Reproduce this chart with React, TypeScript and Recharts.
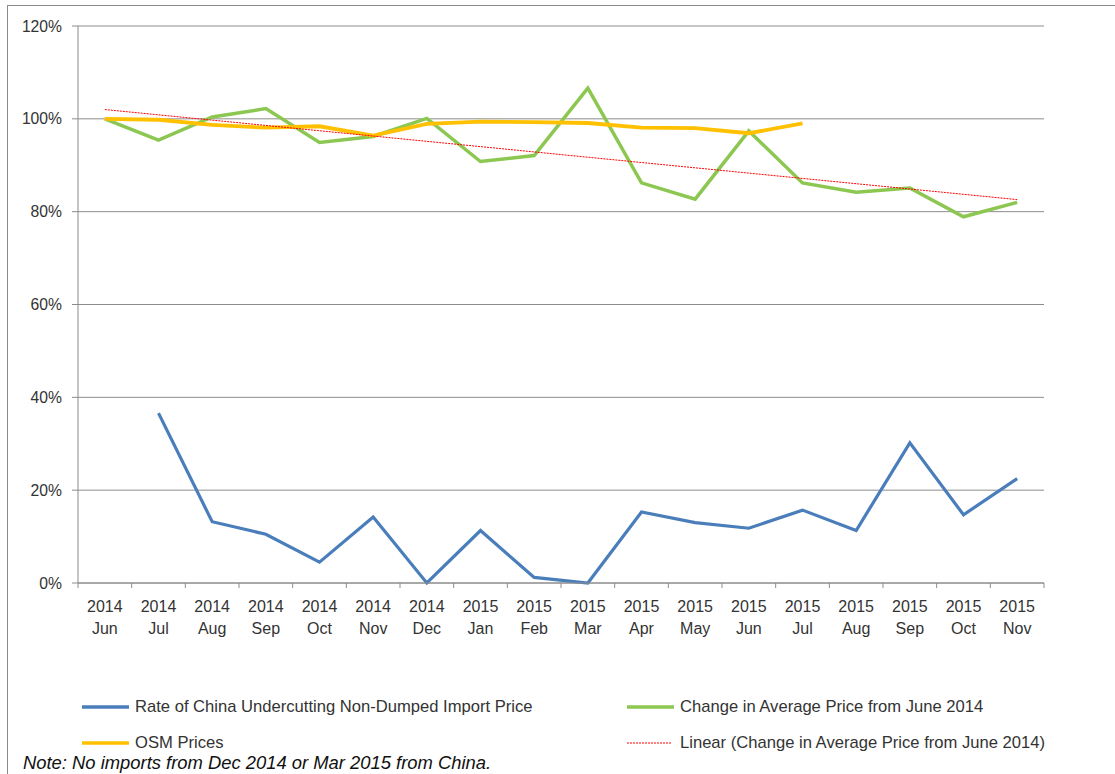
import React from 'react';
import { LineChart, Line, XAxis, YAxis, CartesianGrid } from 'recharts';

const years = ['2014', '2014', '2014', '2014', '2014', '2014', '2014', '2015', '2015', '2015', '2015', '2015', '2015', '2015', '2015', '2015', '2015', '2015'];
const months = ['Jun', 'Jul', 'Aug', 'Sep', 'Oct', 'Nov', 'Dec', 'Jan', 'Feb', 'Mar', 'Apr', 'May', 'Jun', 'Jul', 'Aug', 'Sep', 'Oct', 'Nov'];

const undercutting = [null, 36.6, 13.2, 10.5, 4.5, 14.2, 0, 11.3, 1.2, 0, 15.3, 13.0, 11.8, 15.7, 11.3, 30.2, 14.7, 22.5];
const avgPriceChange = [100, 95.4, 100.4, 102.2, 94.9, 96.2, 100.1, 90.8, 92.1, 106.6, 86.2, 82.7, 97.4, 86.2, 84.2, 85.1, 78.9, 82.0];
const osmPrices = [100, 99.8, 98.7, 98.1, 98.4, 96.4, 98.9, 99.4, 99.3, 99.1, 98.1, 98.0, 96.9, 99.0, null, null, null, null];
// trend line: only the two end values, joined straight
const linearTrend = [102.0, null, null, null, null, null, null, null, null, null, null, null, null, null, null, null, null, 82.6];

const yTicks = [0, 20, 40, 60, 80, 100, 120];

const data = months.map((m, i) => ({
  key: `${years[i]}-${m}-${i}`,
  year: years[i],
  month: m,
  undercutting: undercutting[i],
  avgPriceChange: avgPriceChange[i],
  osmPrices: osmPrices[i],
  linearTrend: linearTrend[i],
}));

const FONT = '"Liberation Sans", Arial, sans-serif';
const GRID = '#8c8c8c';
const TEXT = '#333333';

const CHART_W = 1115;
const CHART_H = 774;
const PLOT_LEFT = 78;
const PLOT_RIGHT = 1044;
const HALF_STEP = (PLOT_RIGHT - PLOT_LEFT) / months.length / 2;

const legendItems = [
  { name: 'Rate of China Undercutting Non-Dumped Import Price', color: '#4a7ebb', dashed: false, left: 82, top: 707 },
  { name: 'Change in Average Price from June 2014', color: '#8cc751', dashed: false, left: 627, top: 707 },
  { name: 'OSM Prices', color: '#ffc000', dashed: false, left: 82, top: 743 },
  { name: 'Linear (Change in Average Price from June 2014)', color: '#ff0000', dashed: true, left: 627, top: 743 },
];

const MonthTick = (props: any) => {
  const { x, y, index, payload } = props;
  const d = data[index] || data[payload.index];
  const isLast = index === months.length - 1;
  return (
    <g>
      <line x1={x - HALF_STEP} y1={y} x2={x - HALF_STEP} y2={y + 5} stroke={GRID} strokeWidth={1} />
      {isLast && <line x1={x + HALF_STEP} y1={y} x2={x + HALF_STEP} y2={y + 5} stroke={GRID} strokeWidth={1} />}
      <text x={x} y={y + 29} textAnchor="middle" fill={TEXT} fontSize={16} fontFamily={FONT}>
        {d.year}
      </text>
      <text x={x} y={y + 51} textAnchor="middle" fill={TEXT} fontSize={16} fontFamily={FONT}>
        {d.month}
      </text>
    </g>
  );
};

export default function App() {
  return (
    <div style={{ position: 'absolute', left: 0, top: 0, width: CHART_W, height: CHART_H, overflow: 'hidden', background: '#fff' }}>
      <div
        style={{
          position: 'absolute',
          left: 7,
          top: 5,
          width: CHART_W + 20,
          height: CHART_H + 20,
          border: '1.5px solid #8a8a8a',
        }}
      />
      <div style={{ position: 'absolute', left: 0, top: 0 }}>
        <LineChart
          width={CHART_W}
          height={CHART_H}
          data={data}
          margin={{ top: 26, right: CHART_W - PLOT_RIGHT, left: 0, bottom: 131 }}
        >
          <CartesianGrid vertical={false} stroke={GRID} strokeWidth={1} />
          <XAxis
            dataKey="key"
            interval={0}
            height={60}
            padding={{ left: HALF_STEP, right: HALF_STEP }}
            axisLine={{ stroke: GRID }}
            tickLine={false}
            tickSize={0}
            tickMargin={0}
            tick={<MonthTick />}
          />
          <YAxis
            width={PLOT_LEFT}
            domain={[0, 120]}
            ticks={yTicks}
            interval={0}
            tickFormatter={(v: number) => `${v}%`}
            axisLine={{ stroke: GRID }}
            tickLine={{ stroke: GRID }}
            tickSize={6}
            tickMargin={10}
            tick={{ fill: TEXT, fontSize: 15.7, fontFamily: FONT }}
          />
          <Line dataKey="undercutting" stroke="#4a7ebb" strokeWidth={3.2} dot={false} isAnimationActive={false} />
          <Line dataKey="avgPriceChange" stroke="#8cc751" strokeWidth={3.5} dot={false} isAnimationActive={false} />
          <Line dataKey="osmPrices" stroke="#ffc000" strokeWidth={3.8} dot={false} isAnimationActive={false} />
          <Line
            dataKey="linearTrend"
            stroke="#ff0000"
            strokeWidth={1}
            strokeDasharray="2 1"
            dot={false}
            connectNulls
            isAnimationActive={false}
          />
        </LineChart>
      </div>
      {legendItems.map((item) => (
        <div
          key={item.name}
          style={{
            position: 'absolute',
            left: item.left,
            top: item.top - 10,
            height: 20,
            display: 'flex',
            alignItems: 'center',
            fontFamily: FONT,
            fontSize: 16.6,
            color: TEXT,
            whiteSpace: 'nowrap',
          }}
        >
          <svg width={48} height={20} style={{ marginRight: 5 }}>
            {item.dashed ? (
              <line x1={0} y1={10} x2={44} y2={10} stroke={item.color} strokeWidth={1} strokeDasharray="2 1" />
            ) : (
              <line x1={0} y1={10} x2={47} y2={10} stroke={item.color} strokeWidth={3.5} />
            )}
          </svg>
          <span>{item.name}</span>
        </div>
      ))}
      <div
        style={{
          position: 'absolute',
          left: 23,
          top: 751,
          fontFamily: FONT,
          fontSize: 18.4,
          fontStyle: 'italic',
          color: '#111',
          whiteSpace: 'nowrap',
          lineHeight: '24px',
        }}
      >
        Note: No imports from Dec 2014 or Mar 2015 from China.
      </div>
    </div>
  );
}
